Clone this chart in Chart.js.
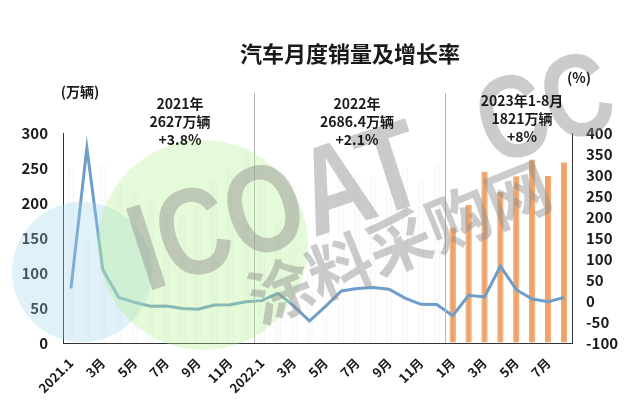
<!DOCTYPE html>
<html>
<head>
<meta charset="utf-8">
<script src="https://cdn.jsdelivr.net/npm/chart.js@4/dist/chart.umd.min.js"></script>
<style>
html,body{margin:0;padding:0;background:#fff;}
#wrap{width:640px;height:406px;position:relative;}
</style>
</head>
<body>
<div id="wrap"><canvas id="c" width="640" height="406"></canvas></div>
<script>
// ---- data ----
const categories = [
  '2021.1','2月','3月','4月','5月','6月','7月','8月','9月','10月','11月','12月',
  '2022.1','2月','3月','4月','5月','6月','7月','8月','9月','10月','11月','12月',
  '1月','2月','3月','4月','5月','6月','7月','8月'
];
const sales = [
  250.3,145.5,252.6,225.2,212.8,201.5,186.4,180.9,207.1,233.1,252.2,278.6,
  253.1,173.7,223.4,118.1,186.2,250.2,242.0,238.3,261.0,250.2,232.6,255.6,
  164.9,197.6,245.1,215.9,238.2,262.2,238.7,258.2
];
const growth = [
  29.9,364.8,74.9,8.6,-3.1,-12.4,-11.9,-17.8,-19.6,-9.4,-9.1,-1.6,
  0.9,18.7,-11.7,-47.6,-12.6,23.8,29.7,32.1,28.1,6.9,-7.9,-8.4,
  -35.0,13.5,9.7,82.7,26.9,4.8,-1.5,8.2
];
const leftTicks = {min:0, max:300, step:50};
const rightTicks = {min:-100, max:400, step:50};
const yearNotes = [
  {lines:['2021年','2627万辆','+3.8%'], from:0, to:11},
  {lines:['2022年','2686.4万辆','+2.1%'], from:12, to:23},
  {lines:['2023年1-8月','1821万辆','+8%'], from:24, to:31}
];
const title = '汽车月度销量及增长率';
const leftUnit = '(万辆)';
const rightUnit = '(%)';

const FONT = "'Noto Sans CJK SC','Noto Sans',sans-serif";
const barColors = sales.map((v,i)=> i>=24 ? '#f0a163' : 'rgba(245,245,245,0.25)');
const barBorders = sales.map((v,i)=> i>=24 ? '#f0a163' : 'rgba(225,225,225,0.35)');

const overlay = {
  id:'overlay',
  afterDatasetsDraw(chart){
    const ctx = chart.ctx;
    const x = chart.scales.x;
    const area = chart.chartArea;
    ctx.save();
    ctx.strokeStyle = '#b5b5b5';
    ctx.lineWidth = 1;
    [11,23].forEach(i=>{
      const px = Math.round((x.getPixelForValue(i)+x.getPixelForValue(i+1))/2)+0.5;
      ctx.beginPath();
      ctx.moveTo(px, area.top-40);
      ctx.lineTo(px, area.bottom);
      ctx.stroke();
    });
    ctx.restore();
  },
  afterDraw(chart){
    const ctx = chart.ctx;
    ctx.save();
    // watermark circles
    ctx.globalAlpha = 0.32;
    ctx.fillStyle = 'rgb(160,212,240)';
    ctx.beginPath(); ctx.arc(82,272,70,0,Math.PI*2); ctx.fill();
    ctx.globalAlpha = 0.34;
    ctx.fillStyle = 'rgb(180,240,140)';
    ctx.beginPath(); ctx.arc(203,245,105,0,Math.PI*2); ctx.fill();
    // watermark text
    ctx.globalAlpha = 0.45;
    ctx.fillStyle = 'rgb(140,140,140)';
    ctx.save();
    ctx.translate(146,292);
    ctx.rotate(-18*Math.PI/180);
    ctx.scale(0.8,1);
    ctx.font = "bold 124px 'Liberation Sans',sans-serif";
    ctx.textBaseline = 'alphabetic';
    ctx.textAlign = 'left';
    ctx.fillText('ICOAT', 0, 0);
    ctx.restore();
    ctx.save();
    ctx.translate(492,166);
    ctx.rotate(-18*Math.PI/180);
    ctx.scale(0.8,1);
    ctx.font = "bold 118px 'Liberation Sans',sans-serif";
    ctx.fillText('CC', 0, 0);
    ctx.restore();
    ctx.save();
    ctx.translate(260,325);
    ctx.rotate(-22*Math.PI/180);
    ctx.font = "bold 64px "+FONT;
    ctx.fillText('涂料采购网', 0, 0);
    ctx.restore();
    ctx.restore();

    // texts
    ctx.save();
    ctx.fillStyle = '#1a1a1a';
    ctx.textAlign = 'center';
    ctx.textBaseline = 'middle';
    ctx.font = "bold 22px "+FONT;
    ctx.fillText(title, 350, 54);
    ctx.font = "bold 14px "+FONT;
    ctx.fillText(leftUnit, 80, 92);
    ctx.fillText(rightUnit, 579, 78);
    const centers = [180, 357, 522];
    const tops = [104, 104, 101];
    yearNotes.forEach((n,k)=>{
      n.lines.forEach((t,j)=>{
        ctx.fillText(t, centers[k], tops[k]+j*18);
      });
    });
    ctx.restore();
  }
};

new Chart(document.getElementById('c'), {
  data:{
    labels: categories,
    datasets:[
      {type:'line', data:growth, yAxisID:'y1', borderColor:'#6f9dc9', borderWidth:3,
       pointRadius:0, tension:0, order:0},
      {type:'bar', data:sales, yAxisID:'y', backgroundColor:barColors, borderColor:barBorders,
       borderWidth:1, barPercentage:0.4, categoryPercentage:1, order:1}
    ]
  },
  options:{
    responsive:false,
    animation:false,
    layout:{padding:{top:133,left:0,right:0,bottom:0}},
    plugins:{legend:{display:false}, tooltip:{enabled:false}},
    scales:{
      x:{
        grid:{display:true, color:'rgba(0,0,0,0)', drawTicks:false, drawOnChartArea:false},
        border:{display:true, color:'#333', width:1},
        ticks:{autoSkip:false, maxRotation:45, minRotation:45, padding:12,
          color:'#1a1a1a', font:{family:FONT, size:13, weight:'bold'},
          callback:(v,i)=> i%2===0 ? categories[i] : ''},
        afterFit(s){ s.height = 63; }
      },
      y:{
        position:'left', min:leftTicks.min, max:leftTicks.max,
        grid:{display:true, color:'rgba(0,0,0,0)', drawTicks:false, drawOnChartArea:false},
        border:{display:true, color:'#333', width:1},
        ticks:{stepSize:leftTicks.step, padding:15, color:'#1a1a1a',
          font:{family:FONT, size:15, weight:'bold'}},
        afterFit(s){ s.width = 63; }
      },
      y1:{
        position:'right', min:rightTicks.min, max:rightTicks.max,
        grid:{display:true, color:'rgba(0,0,0,0)', drawTicks:false, drawOnChartArea:false},
        border:{display:true, color:'#333', width:1},
        ticks:{stepSize:rightTicks.step, padding:14, color:'#1a1a1a',
          font:{family:FONT, size:15, weight:'bold'}},
        afterFit(s){ s.width = 68; }
      }
    }
  },
  plugins:[overlay]
});
</script>
</body>
</html>
